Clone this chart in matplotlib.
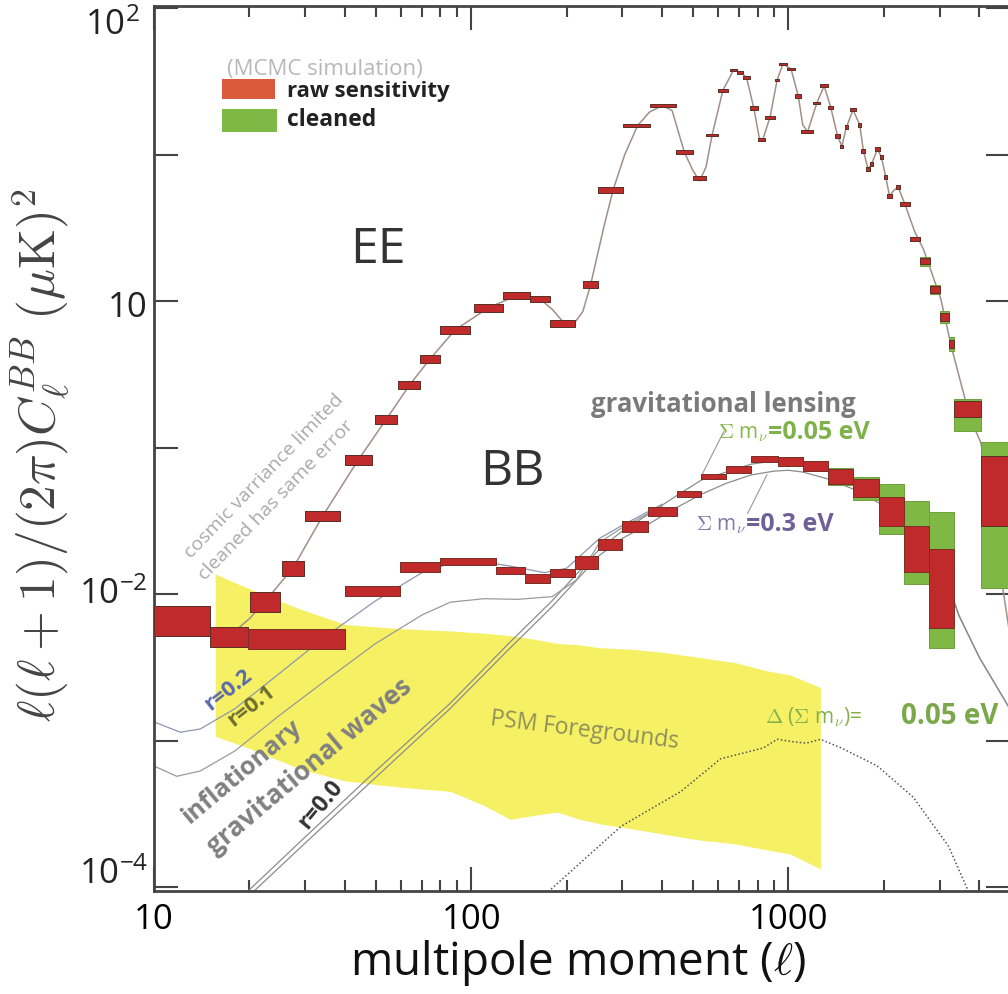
import numpy as np
import matplotlib
matplotlib.use("Agg")
import matplotlib.pyplot as plt
from matplotlib.patches import Rectangle
from matplotlib.ticker import FixedLocator, FixedFormatter, NullFormatter

plt.rcParams['font.family'] = ['Open Sans', 'DejaVu Sans']
plt.rcParams['mathtext.fontset'] = 'cm'

W, H = 1008, 995

# ---------------- theory curves (multipole, D_l in uK^2) ----------------
EE_L = [10, 12.5, 15, 17.5, 20, 22.5, 27.5, 34, 44, 54, 64, 74, 89, 113, 139, 165, 180,
        195, 210, 225, 238, 262, 280, 305, 335, 365, 400, 430, 470, 500, 525, 550, 575,
        622, 672, 705, 738, 778, 810, 830, 876, 922, 962, 1020, 1075, 1110, 1150, 1180,
        1230, 1297, 1360, 1430, 1475, 1525, 1600, 1680, 1725, 1785, 1830, 1910, 1965,
        2030, 2085, 2150, 2220, 2330, 2500, 2667, 2850, 3027, 3280, 3450, 3750, 4040,
        4350, 4670, 4950]
EE_D = [0.0078, 0.0066, 0.0056, 0.0053, 0.0068, 0.0090, 0.0152, 0.034, 0.082, 0.156,
        0.268, 0.40, 0.635, 0.896, 1.09, 1.03, 0.88, 0.72, 0.69, 0.85, 1.29, 3.2, 5.7,
        10.0, 15.8, 19.5, 21.6, 20.0, 10.4, 7.8, 6.6, 8.2, 13.6, 27.5, 37.7, 36.5, 33.8,
        20.8, 13.0, 12.6, 18.0, 32.3, 41.5, 38.4, 25.1, 16.0, 14.3, 17.0, 22.5, 29.4,
        21.1, 13.4, 11.4, 15.4, 20.2, 15.9, 10.6, 7.96, 8.61, 10.9, 9.6, 7.0, 5.2, 5.7,
        6.0, 4.6, 3.0, 2.26, 1.5, 1.03, 0.47, 0.31, 0.157, 0.109, 0.05, 0.0137, 0.006]

LENS_L = [19.8, 30, 50, 86, 130, 180, 254, 300, 362, 445, 532, 637, 763, 900, 1000,
          1112, 1335, 1603, 1925, 2300, 2767, 3000, 3300, 3450, 4000, 4950]
LENS_005 = [9.4e-5, 2.2e-4, 6.2e-4, 1.8e-3, 4.5e-3, 9.0e-3, 0.0203, 0.027, 0.035, 0.047,
            0.060, 0.068, 0.077, 0.081, 0.082, 0.079, 0.071, 0.060, 0.047, 0.034, 0.021,
            0.015, 0.0095, 0.0072, 0.0037, 0.0017]
LENS_030 = [8.6e-5, 2.0e-4, 5.6e-4, 1.66e-3, 4.1e-3, 8.2e-3, 0.0184, 0.024, 0.030, 0.039,
            0.048, 0.057, 0.065, 0.069, 0.070, 0.068, 0.061, 0.052, 0.042, 0.031, 0.020,
            0.0145, 0.0093, 0.0071, 0.0037, 0.0017]

R01_L = [10, 11.8, 14, 18, 25, 35, 50, 70, 86, 110, 140, 180, 215, 254, 300, 400]
R01_D = [6.7e-4, 5.7e-4, 6.2e-4, 8.5e-4, 1.5e-3, 2.6e-3, 4.6e-3, 7.2e-3, 8.8e-3, 9.3e-3,
         9.2e-3, 9.6e-3, 0.0125, 0.0225, 0.0285, 0.040]
R02_L = [10, 12.1, 14, 18, 25, 35, 50, 70, 86, 110, 140, 170, 200, 254, 300, 400]
R02_D = [1.34e-3, 1.14e-3, 1.2e-3, 1.65e-3, 2.9e-3, 5.2e-3, 9.0e-3, 0.0140, 0.0162,
         0.0166, 0.0152, 0.0140, 0.0150, 0.0240, 0.0295, 0.041]

DNU_L = [175, 297, 459, 611, 834, 923, 1040, 1140, 1262, 1469, 1909, 2478, 3199, 3700]
DNU_D = [9.3e-5, 2.6e-4, 4.5e-4, 7.5e-4, 8.9e-4, 1.02e-3, 9.8e-4, 9.6e-4, 1.02e-3,
         8.9e-4, 6.7e-4, 4.1e-4, 1.9e-4, 9.3e-5]

# PSM foreground band
FG_L = [15.6, 20.1, 28.9, 40.1, 60, 85.9, 110, 132.8, 160, 186.8, 220, 255, 320, 403,
        520, 681, 850, 1014, 1262]
FG_HI = [0.0137, 0.0108, 0.0079, 0.0062, 0.0058, 0.0056, 0.0054, 0.0052, 0.0049, 0.0046,
         0.0045, 0.0043, 0.0042, 0.0040, 0.0037, 0.0034, 0.0030, 0.0028, 0.0023]
FG_LO = [1.07e-3, 8.8e-4, 6.4e-4, 5.3e-4, 4.8e-4, 4.5e-4, 3.6e-4, 2.9e-4, 3.1e-4, 3.25e-4,
         2.9e-4, 2.7e-4, 2.5e-4, 2.3e-4, 2.1e-4, 1.97e-4, 1.8e-4, 1.68e-4, 1.33e-4]

# ---------------- binned simulated band powers ----------------
EE_LO = [10, 15, 20.1, 25.3, 30, 40, 49.8, 58.8, 69, 79.8, 102, 126, 153, 177, 225, 252,
         302, 366, 441, 500, 550, 600, 655, 690, 720, 757, 800, 843, 910, 935, 990, 1050,
         1100, 1200, 1260, 1335, 1403, 1460, 1510, 1560, 1660, 1700, 1760, 1810, 1880,
         1940, 2010, 2050, 2190, 2250, 2420, 2600, 2800, 3000, 3200, 3340, 4040]
EE_HI = [15, 19.8, 25, 29.7, 38.6, 48.7, 58.4, 69, 79.8, 99.3, 126, 153, 177, 213, 252,
         302, 366, 441, 500, 550, 600, 645, 690, 720, 757, 800, 843, 910, 935, 990, 1050,
         1100, 1200, 1260, 1335, 1385, 1460, 1490, 1540, 1640, 1700, 1750, 1810, 1850,
         1940, 1990, 2050, 2120, 2250, 2420, 2600, 2800, 3000, 3200, 3340, 4040, 4950]
EE_RAW = [0.0067, 0.00515, 0.0089, 0.0150, 0.0342, 0.082, 0.156, 0.268, 0.40, 0.635,
          0.896, 1.09, 1.03, 0.70, 1.29, 5.72, 15.8, 21.6, 10.4, 6.9, 13.6, 27.5, 37.7,
          36.5, 33.8, 20.8, 12.6, 18.0, 32.3, 41.5, 38.4, 25.1, 14.3, 22.5, 29.4, 21.1,
          13.4, 11.4, 15.4, 20.2, 15.9, 10.6, 7.96, 8.61, 10.9, 9.6, 7.0, 5.2, 6.0, 4.6,
          2.65, 1.87, 1.2, 0.78, 0.51, 0.1845, 0.058]
EE_RAW_ERR = [0.00155, 0.0008, 0.0014, 0.0018, 0.0027, 0.0065, 0.011, 0.017, 0.025, 0.04,
              0.06, 0.06, 0.05, 0.04, 0.07, 0.25, 0.4, 0.5, 0.3, 0.2, 0.3, 0.6, 0.8, 0.8,
              0.8, 0.5, 0.3, 0.4, 0.7, 0.9, 0.8, 0.6, 0.35, 0.5, 0.7, 0.5, 0.35, 0.3, 0.4,
              0.5, 0.4, 0.28, 0.22, 0.23, 0.3, 0.28, 0.2, 0.16, 0.17, 0.15, 0.1, 0.09, 0.06,
              0.045, 0.035, 0.023, 0.029]
EE_CLEAN = EE_RAW[:-2] + [0.172, 0.060]
EE_CLEAN_ERR = EE_RAW_ERR[:51] + [0.14, 0.09, 0.07, 0.055, 0.042, 0.049]

BB_LO = [19.8, 40, 59.7, 79.8, 120, 148, 177, 213, 252, 300, 362, 445, 532, 637, 763, 930,
         1112, 1335, 1603, 1925, 2313, 2767]
BB_HI = [40, 59.7, 79.8, 120, 148, 177, 213, 252, 300, 362, 445, 532, 637, 763, 930, 1112,
         1335, 1603, 1925, 2313, 2767, 3338]
BB_RAW = [0.00499, 0.0105, 0.0153, 0.0167, 0.0145, 0.0128, 0.0139, 0.0165, 0.0218, 0.029,
          0.0367, 0.0482, 0.0635, 0.071, 0.0836, 0.080, 0.075, 0.0638, 0.0535, 0.0375,
          0.0216, 0.0131]
BB_RAW_ERR = [0.00078, 0.00083, 0.0012, 0.0009, 0.0008, 0.0009, 0.0009, 0.0017, 0.0019,
              0.0025, 0.0027, 0.0023, 0.0025, 0.004, 0.004, 0.0056, 0.0059, 0.0075, 0.0075,
              0.0084, 0.0075, 0.0072]
BB_CLEAN = BB_RAW[:19] + [0.041, 0.0274, 0.0203]
BB_CLEAN_ERR = BB_RAW_ERR[:17] + [0.0085, 0.0095, 0.0153, 0.0157, 0.016]

RED = '#c02a2a'
GREEN = '#80b846'

fig = plt.figure(figsize=(W / 100, H / 100), dpi=100)
ax = fig.add_axes([154 / W, 1 - 892 / H, (1010 - 154) / W, (892 - 7) / H])
ax.set_xscale('log')
ax.set_yscale('log')
ax.set_xlim(10, 5000)
ax.set_ylim(10 ** -4.027, 10 ** 2.014)

# foreground band
ax.fill_between(FG_L, FG_LO, FG_HI, color='#f5f064', lw=0, zorder=1)

# theory lines
ax.plot(EE_L, EE_D, color='#a09088', lw=1.1, zorder=2)
ax.plot(LENS_L, LENS_005, color='#8c8c8c', lw=0.9, zorder=2)
ax.plot(LENS_L, LENS_030, color='#8c8c8c', lw=0.9, zorder=2)
ax.plot(R01_L, R01_D, color='#9a9a9a', lw=0.9, zorder=2)
ax.plot(R02_L, R02_D, color='#8f96b0', lw=0.9, zorder=2)
ax.plot(DNU_L, DNU_D, color='#555555', lw=1.1, ls=(0, (1, 1.5)), zorder=2)


def draw_bins(lo, hi, val, err, color, edge, z):
    lo = np.asarray(lo)
    hi = np.asarray(hi)
    val = np.asarray(val)
    err = np.asarray(err)
    ax.bar(lo, 2 * err, width=hi - lo, bottom=val - err, align='edge', color=color,
           edgecolor=edge, linewidth=0.7, zorder=z)


draw_bins(EE_LO, EE_HI, EE_CLEAN, EE_CLEAN_ERR, GREEN, '#6f9f3c', 3)
draw_bins(BB_LO, BB_HI, BB_CLEAN, BB_CLEAN_ERR, GREEN, '#6f9f3c', 3)
draw_bins(EE_LO, EE_HI, EE_RAW, EE_RAW_ERR, RED, '#5a3028', 4)
draw_bins(BB_LO, BB_HI, BB_RAW, BB_RAW_ERR, RED, '#7a3026', 4)

# axes styling
for s in ax.spines.values():
    s.set_linewidth(2)
    s.set_color('#444444')
ax.xaxis.set_major_locator(FixedLocator([10, 100, 1000]))
ax.xaxis.set_major_formatter(FixedFormatter(['10', '100', '1000']))
ax.xaxis.set_minor_locator(FixedLocator([m * d for d in (10, 100, 1000) for m in range(2, 10)]))
ax.xaxis.set_minor_formatter(NullFormatter())
ax.yaxis.set_major_locator(FixedLocator([1e-4, 1e-3, 1e-2, 1e-1, 1, 10, 100]))
ax.yaxis.set_major_formatter(NullFormatter())
ax.yaxis.set_minor_locator(FixedLocator([]))
ax.tick_params(which='both', direction='in', top=True, right=True, color='#444444', width=1.5)
ax.tick_params(axis='x', which='major', length=17, labelsize=25, pad=8)
ax.tick_params(axis='x', which='minor', length=8)
ax.tick_params(axis='y', which='major', length=17)


def put(x, y, s, **kw):
    kw.setdefault('ha', 'center')
    kw.setdefault('va', 'center')
    fig.text(x / W, 1 - y / H, s, **kw)


# y tick labels
put(140, 26, r'$\mathregular{10^{2}}$', ha='right', fontsize=25, color='#222222')
put(148, 308, '10', ha='right', fontsize=25, color='#222222')
put(148, 595, r'$\mathregular{10^{-2}}$', ha='right', fontsize=25, color='#222222')
put(148, 875, r'$\mathregular{10^{-4}}$', ha='right', fontsize=25, color='#222222')

# legend block
fig.patches.append(Rectangle((222 / W, 1 - 100 / H), 53 / W, 20 / H, transform=fig.transFigure,
                             facecolor='#dc5a3c', edgecolor='none'))
fig.patches.append(Rectangle((222 / W, 1 - 133 / H), 55 / W, 23 / H, transform=fig.transFigure,
                             facecolor=GREEN, edgecolor='none'))
put(227, 69, '(MCMC simulation)', ha='left', color='#b8b8b8', fontsize=16)
put(287, 92, 'raw sensitivity', ha='left', color='#222222', fontsize=16, fontweight='bold')
put(287, 120, 'cleaned', ha='left', color='#222222', fontsize=16.5, fontweight='bold')

put(378, 250, 'EE', fontsize=36, color='#333333')
put(512, 472, 'BB', fontsize=36, color='#333333')

put(264, 476, 'cosmic varriance limited', rotation=46, fontsize=14, color='#aaaaaa',
    rotation_mode='anchor')
put(276, 500, 'cleaned has same error', rotation=46, fontsize=14, color='#aaaaaa',
    rotation_mode='anchor')

put(723, 405, 'gravitational lensing', fontsize=18.5, fontweight='bold', color='#7a7a7a')
put(768, 433, r'$\Sigma$ m$_\nu$', ha='right', fontsize=15, color='#86b84e')
put(768, 433, '=0.05 eV', ha='left', fontsize=18, fontweight='bold', color='#7fb24a')
put(746, 525, r'$\Sigma$ m$_\nu$', ha='right', fontsize=15, color='#8078a8')
put(746, 525, '=0.3 eV', ha='left', fontsize=18, fontweight='bold', color='#6d6298')
put(765, 717, r'$\Delta$ ($\Sigma$ m$_\nu$)=', ha='left', fontsize=15, color='#86b04e')
put(998, 717, '0.05 eV', ha='right', fontsize=20, fontweight='bold', color='#7aa84a')
put(585, 731, 'PSM Foregrounds', rotation=-7, fontsize=16.5, color='#8f8f5a')

put(228, 690, 'r=0.2', rotation=38, fontsize=16, fontweight='bold', color='#5a6aa8')
put(251, 706, 'r=0.1', rotation=38, fontsize=16, fontweight='bold', color='#6e6e2e')
put(242, 772, 'inflationary', rotation=40, fontsize=18, fontweight='bold', color='#808080')
put(309, 767, 'gravitational waves', rotation=40, fontsize=19, fontweight='bold', color='#808080')
put(321, 805, 'r=0.0', rotation=50, fontsize=16.5, fontweight='bold', color='#333333')

# leader lines from the neutrino-mass labels to the lensing curves
ax.annotate('', xy=(532, 0.064), xytext=(632, 0.134),
            arrowprops=dict(arrowstyle='-', color='#999999', lw=0.8))
ax.annotate('', xy=(865, 0.068), xytext=(737, 0.034),
            arrowprops=dict(arrowstyle='-', color='#999999', lw=0.8))

put(40, 455, r'$\ell(\ell+1)/(2\pi)C_\ell^{BB}\ (\mu{\rm K})^2$', rotation=90, fontsize=37,
    color='#444444')
put(578, 963, r'multipole moment ($\ell$)', fontsize=33, color='#111111')

fig.savefig('out.png', dpi=100)
